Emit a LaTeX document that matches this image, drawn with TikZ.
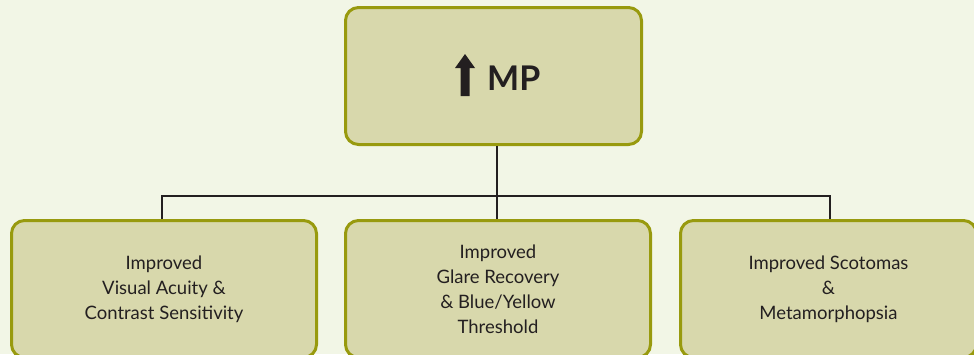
\documentclass[tikz,border=0pt]{standalone}
\usepackage{fontspec}
\setmainfont{Lato}
\definecolor{pagebg}{HTML}{F2F6E6}
\definecolor{boxfill}{HTML}{D8D8AC}
\definecolor{boxedge}{HTML}{989A0E}
\definecolor{inkdark}{HTML}{231F20}
\tikzset{
  card/.style={draw=boxedge, fill=boxfill, line width=3bp, rounded corners=13bp,
    align=center, text=inkdark, inner sep=0pt,
    font=\fontsize{18.5bp}{25bp}\selectfont},
  link/.style={draw=inkdark, line width=2.8bp}
}
\begin{document}
\begin{tikzpicture}[x=1bp, y=-1bp]
  % canvas
  \fill[pagebg] (0,0) rectangle (974,354);
  \useasboundingbox (0,0) rectangle (974,354);

  % top box
  \node[card, minimum width=296bp, minimum height=137bp, anchor=north west] (top) at (344,6) {};
  % upward arrow + label
  \fill[inkdark] (460.5,96) -- (460.5,68) -- (455,68) -- (465,54) -- (475,68) -- (469.5,68) -- (469.5,96) -- cycle;
  \node[anchor=base west, text=inkdark, inner sep=0pt,
        font=\fontsize{34bp}{40bp}\selectfont\bfseries] (mp) at (487,90) {MP};

  % bottom boxes
  \node[card, minimum width=305bp, minimum height=137bp, anchor=north west] (b1) at (10,219)
    {Improved\\Visual Acuity \&\\Contrast Sensitivity};
  \node[card, minimum width=305bp, minimum height=137bp, anchor=north west] (b2) at (344,219)
    {Improved\\Glare Recovery\\\& Blue/Yellow\\Threshold};
  \node[card, minimum width=296bp, minimum height=137bp, anchor=north west] (b3) at (679,219)
    {Improved Scotomas\\\&\\Metamorphopsia};

  % connectors
  \coordinate (bus) at (497,196);
  \draw[link] (top.south -| bus) -- (bus);
  \draw[link] (b1.north -| 162,0) |- (bus);
  \draw[link] (b3.north -| 830,0) |- (bus);
  \draw[link] (bus) -- (b2.north -| bus);
\end{tikzpicture}
\end{document}
